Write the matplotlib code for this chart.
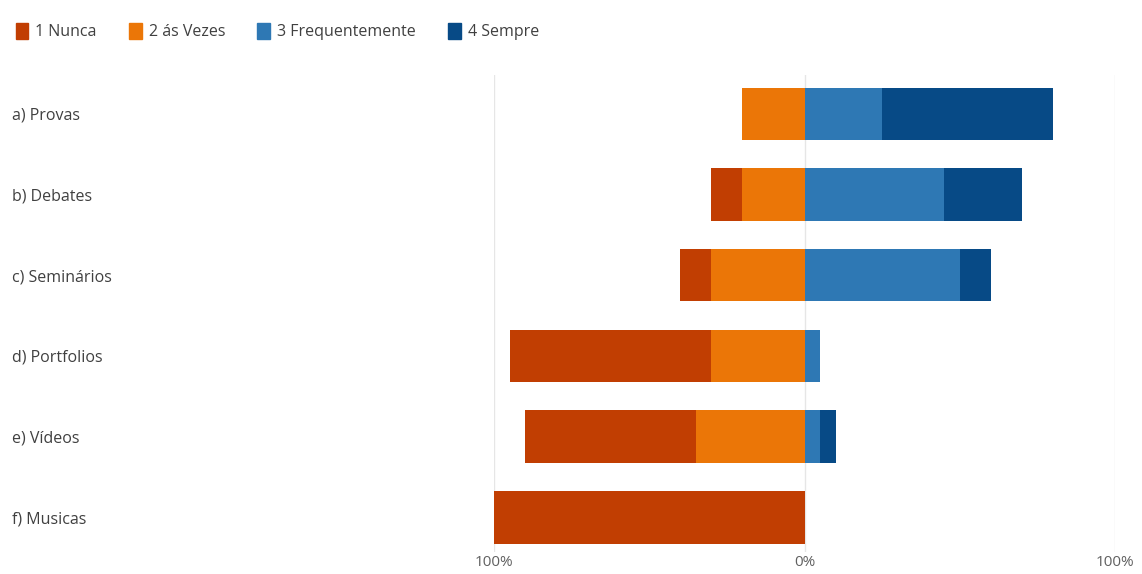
import matplotlib
matplotlib.use('Agg')
import matplotlib.pyplot as plt
from matplotlib.patches import Patch

plt.rcParams['font.family'] = ['Open Sans', 'DejaVu Sans']

categorias = ['a) Provas', 'b) Debates', 'c) Seminários', 'd) Portfolios', 'e) Vídeos', 'f) Musicas']
nunca = [0, 10, 10, 65, 55, 100]
as_vezes = [20, 20, 30, 30, 35, 0]
frequentemente = [25, 45, 50, 5, 5, 0]
sempre = [55, 25, 10, 0, 5, 0]

series_nomes = ['1 Nunca', '2 ás Vezes', '3 Frequentemente', '4 Sempre']
cores = ['#C13E02', '#EB7607', '#2E78B4', '#074A86']

fig = plt.figure(figsize=(11.42, 5.74), dpi=100)
ax = fig.add_axes([494/1142, 1 - 552/574, (1115-494)/1142, (552-75)/574])

y = list(range(len(categorias)))
h = 0.65

left_av = [-v for v in as_vezes]
left_n = [-(a + n) for a, n in zip(as_vezes, nunca)]
ax.barh(y, nunca, left=left_n, height=h, color=cores[0], zorder=3)
ax.barh(y, as_vezes, left=left_av, height=h, color=cores[1], zorder=3)
ax.barh(y, frequentemente, left=0, height=h, color=cores[2], zorder=3)
ax.barh(y, sempre, left=frequentemente, height=h, color=cores[3], zorder=3)

ax.set_xlim(-100, 100)
ax.set_ylim(5.43, -0.48)
ax.set_xticks([-100, 0, 100])
ax.set_xticklabels(['100%', '0%', '100%'])
ax.set_yticks(y)
ax.set_yticklabels(categorias, ha='left')
ax.tick_params(axis='y', length=0, pad=347, labelsize=11.5, labelcolor='#404040')
ax.tick_params(axis='x', length=0, pad=2, labelsize=11, labelcolor='#606060')
for s in ax.spines.values():
    s.set_visible(False)
ax.grid(axis='x', color='#E6E6E6', linewidth=1, zorder=0)

handles = [Patch(color=c, label=n) for c, n in zip(cores, series_nomes)]
fig.legend(handles=handles, loc='upper left', bbox_to_anchor=(0.001, 0.985), ncol=4,
           frameon=False, handlelength=0.8, handleheight=1.15, handletextpad=0.45,
           columnspacing=2.0, fontsize=11.5, labelcolor='#404040')

fig.savefig('out.png', dpi=100, facecolor='white')
